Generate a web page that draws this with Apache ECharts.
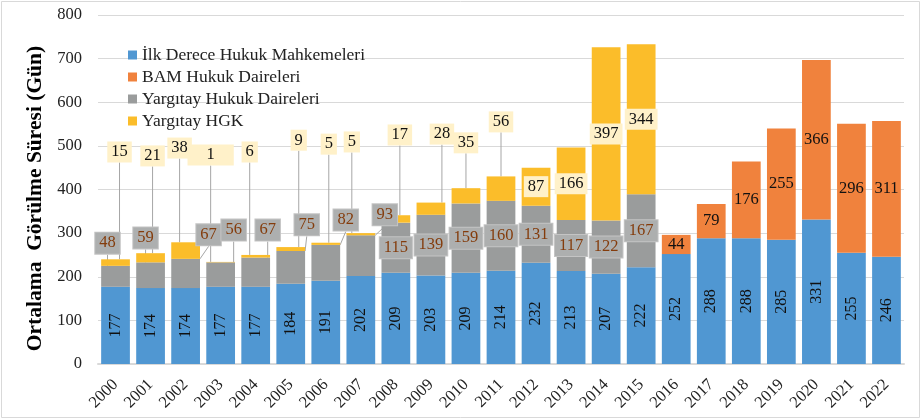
<!DOCTYPE html>
<html>
<head>
<meta charset="utf-8">
<script src="https://cdn.jsdelivr.net/npm/echarts@6/dist/echarts.min.js"></script>
<style>
  html, body { margin: 0; padding: 0; background: #fff; }
  #chart { width: 922px; height: 420px; }
</style>
</head>
<body>
<div id="chart"></div>
<script>
// Data
const years = ['2000', '2001', '2002', '2003', '2004', '2005', '2006', '2007', '2008', '2009', '2010', '2011',
    '2012', '2013', '2014', '2015', '2016', '2017', '2018', '2019', '2020', '2021', '2022'];
const ilkDerece = [177, 174, 174, 177, 177, 184, 191, 202, 209, 203, 209, 214, 232, 213, 207, 222, 252, 288, 288, 285, 331, 255, 246];
const bamDaireleri = ['-', '-', '-', '-', '-', '-', '-', '-', '-', '-', '-', '-', '-', '-', '-', '-', 44, 79, 176, 255, 366, 296, 311];
const yargitayDaireleri = [48, 59, 67, 56, 67, 75, 82, 93, 115, 139, 159, 160, 131, 117, 122, 167, '-', '-', '-', '-', '-', '-', '-'];
const yargitayHGK = [15, 21, 38, 1, 6, 9, 5, 5, 17, 28, 35, 56, 87, 166, 397, 344, '-', '-', '-', '-', '-', '-', '-'];
const yTicks = { min: 0, max: 800, interval: 100 };

// Callout placement for moved labels: [x shift in px, height on the y axis]
const hgkCallouts = { 0: [4, 486], 1: [2, 477], 2: [-6, 495], 3: [-10, 479], 4: [-6, 486], 5: [8, 513],
    6: [3, 504], 7: [-9, 509], 8: [4, 525], 9: [11, 527], 10: [0, 507], 11: [0, 555] };
const hdCallouts = { 0: [-8, 277], 1: [-5, 289], 2: [23, 296], 3: [13, 307], 4: [12, 307], 5: [16, 319],
    6: [20, 330], 7: [24, 342] };

const serif = "'Liberation Serif', 'Times New Roman', serif";
const chart = echarts.init(document.getElementById('chart'));

function calloutLayout(callouts) {
    return function (params) {
        const c = callouts[params.dataIndex];
        if (!c) return {};
        return {
            x: params.rect.x + params.rect.width / 2 + c[0],
            y: chart.convertToPixel({ yAxisIndex: 0 }, c[1]),
            align: 'center',
            verticalAlign: 'middle'
        };
    };
}

const guideLine = { show: true, lineStyle: { color: '#a6a6a6', width: 1 } };

// the 2003 HGK label sits in a wider box in the original
const hgkData = yargitayHGK.map((v, i) => i === 3
    ? { value: v, label: { padding: [2, 19] } }
    : v);

const option = {
    backgroundColor: '#fff',
    animation: false,
    textStyle: { fontFamily: serif },
    graphic: [{
        type: 'rect',
        shape: { x: 1.5, y: 1.5, width: 918, height: 416 },
        style: { fill: 'none', stroke: '#d9d9d9', lineWidth: 1 }
    }],
    legend: {
        orient: 'vertical',
        left: 123,
        top: 41,
        itemWidth: 9,
        itemHeight: 9,
        itemGap: 4,
        itemTextGap: 5,
        icon: 'rect',
        textStyle: { fontFamily: serif, fontSize: 17.5, color: '#222', lineHeight: 18 },
        data: ['İlk Derece Hukuk Mahkemeleri', 'BAM Hukuk Daireleri', 'Yargıtay Hukuk Daireleri', 'Yargıtay HGK']
    },
    grid: { left: 98, right: 18, top: 15, bottom: 56 },
    xAxis: {
        type: 'category',
        data: years,
        axisLine: { lineStyle: { color: '#d9d9d9', width: 2 } },
        axisTick: { show: false },
        axisLabel: { rotate: 45, fontFamily: serif, fontSize: 16.5, color: '#222', margin: 18 }
    },
    yAxis: {
        type: 'value',
        min: yTicks.min,
        max: yTicks.max,
        interval: yTicks.interval,
        name: 'Ortalama  Görülme Süresi (Gün)',
        nameLocation: 'middle',
        nameGap: 51,
        nameTextStyle: { fontFamily: serif, fontSize: 21.5, fontWeight: 'bold', color: '#000', padding: [0, 18, 0, 0] },
        axisLine: { show: false },
        axisTick: { show: false },
        axisLabel: { fontFamily: serif, fontSize: 16.5, color: '#222', margin: 16 },
        splitLine: { lineStyle: { color: '#d9d9d9', width: 1 } }
    },
    series: [
        {
            name: 'İlk Derece Hukuk Mahkemeleri',
            type: 'bar',
            stack: 'total',
            barCategoryGap: '18%',
            data: ilkDerece,
            itemStyle: { color: '#5097d2' },
            label: { show: true, position: 'inside', rotate: 90, fontFamily: serif, fontSize: 16, color: '#111' }
        },
        {
            name: 'BAM Hukuk Daireleri',
            type: 'bar',
            stack: 'total',
            data: bamDaireleri,
            itemStyle: { color: '#f0823d' },
            label: { show: true, position: 'inside', fontFamily: serif, fontSize: 16.5, color: '#111' }
        },
        {
            name: 'Yargıtay Hukuk Daireleri',
            type: 'bar',
            stack: 'total',
            data: yargitayDaireleri,
            itemStyle: { color: '#9a9c9c' },
            label: {
                show: true, position: 'inside', fontFamily: serif, fontSize: 16.5, color: '#843c0c',
                backgroundColor: '#adafaf', borderColor: '#c4c4c4', borderWidth: 1, padding: [2, 4]
            },
            labelLine: guideLine,
            labelLayout: calloutLayout(hdCallouts)
        },
        {
            name: 'Yargıtay HGK',
            type: 'bar',
            stack: 'total',
            data: hgkData,
            itemStyle: { color: '#fbbd2a' },
            label: {
                show: true, position: 'inside', fontFamily: serif, fontSize: 16.5, color: '#111',
                backgroundColor: '#fff1c9', padding: [2, 4]
            },
            labelLine: guideLine,
            labelLayout: calloutLayout(hgkCallouts)
        }
    ]
};

chart.setOption(option);
</script>
</body>
</html>
